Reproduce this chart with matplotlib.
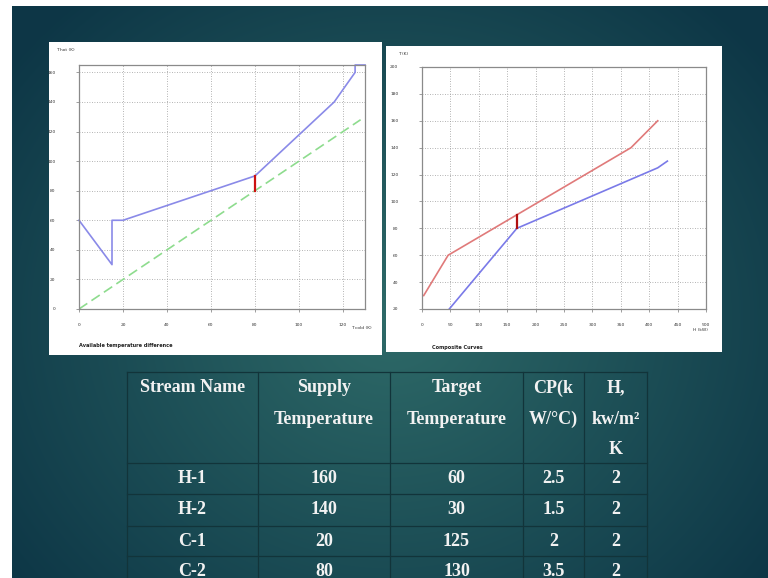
import numpy as np
import matplotlib
matplotlib.use("Agg")
import matplotlib.pyplot as plt
from matplotlib.patches import Rectangle

W, H = 768, 578

# left chart: available temperature difference (T cold vs T hot)
tcold_hot = [0, 15, 15, 20, 80, 116, 125.5, 125.5, 130]
thot_line = [60, 30, 60, 60, 90, 140, 160, 165, 165]
diag_x = [0, 128]
diag_y = [0, 128]
pinch1_x = [80, 80]
pinch1_y = [80, 90]

# right chart: composite curves
hot_h = [3, 46, 368, 415]
hot_t = [30, 60, 140, 160]
cold_h = [48, 167, 415, 432]
cold_t = [20, 80, 125, 130]
pinch2_h = [167, 167]
pinch2_t = [80, 90]

# stream table
headers = ["Stream Name", "Supply\nTemperature", "Target\nTemperature", "CP(k\nW/°C)", "H,\nkw/m²\nK"]
streams = ["H-1", "H-2", "C-1", "C-2"]
supply = ["160", "140", "20", "80"]
target = ["60", "30", "125", "130"]
cp = ["2.5", "1.5", "2", "3.5"]
coef = ["2", "2", "2", "2"]


def box(x0, y0, x1, y1):
    return [x0 / W, 1 - y1 / H, (x1 - x0) / W, (y1 - y0) / H]


fig = plt.figure(figsize=(W / 100, H / 100), dpi=100)

# slide background
bg = fig.add_axes([0, 0, 1, 1])
yy, xx = np.mgrid[0:H, 0:W]
d = np.clip(np.sqrt(((xx - 390) / 480) ** 2 + ((yy - 320) / 430) ** 2), 0, 1)
inner = np.array([0x2e, 0x6a, 0x68]) / 255
outer = np.array([0x0d, 0x36, 0x46]) / 255
grad = inner * (1 - d[..., None]) + outer * d[..., None]
bg.imshow(grad, extent=[0, W, H, 0], aspect="auto", interpolation="bilinear")
bg.set_xlim(0, W)
bg.set_ylim(H, 0)
bg.axis("off")
bg.add_patch(Rectangle((0, 0), W, 6, color="white", lw=0))
bg.add_patch(Rectangle((0, 0), 12, H, color="white", lw=0))

# table grid
col_edges = [127, 258, 390, 523, 584, 647]
row_edges = [372, 463, 494, 526, 556, 587]
lc = "#12343a"
for x in col_edges:
    bg.plot([x, x], [row_edges[0], row_edges[-1]], color=lc, lw=0.9)
for y in row_edges:
    bg.plot([col_edges[0], col_edges[-1]], [y, y], color=lc, lw=0.9)

tfont = dict(family="Liberation Serif", weight="bold", size=13, color="#f2f2f2",
             ha="center", va="center")
centers = [(col_edges[i] + col_edges[i + 1]) / 2 for i in range(5)]
for c, hd in zip(centers, headers):
    for k, line in enumerate(hd.split("\n")):
        bg.text(c, 388 + 31 * k, line, **tfont)
columns = [streams, supply, target, cp, coef]
for c, vals in zip(centers, columns):
    for r, v in enumerate(vals):
        bg.text(c, (row_edges[r + 1] + row_edges[r + 2]) / 2, v, **tfont)

# white panels
for b in [box(49, 42, 382, 355), box(386, 46, 722, 352)]:
    p = fig.add_axes(b)
    p.set_facecolor("white")
    p.set_xticks([])
    p.set_yticks([])
    for s in p.spines.values():
        s.set_visible(False)


def style(ax):
    ax.grid(True, color="#9a9a9a", lw=0.6, linestyle=(0, (1, 2)))
    for s in ax.spines.values():
        s.set_color("#8a8a8a")
        s.set_linewidth(0.9)
    ax.tick_params(labelsize=3.2, length=2, width=0.5, color="#777777",
                   labelcolor="#333333", pad=8)
    ax.set_axisbelow(True)


# left chart
ax1 = fig.add_axes(box(79, 65, 365, 309))
ax1.plot(diag_x, diag_y, color="#8edc8e", lw=1.2, dashes=(6, 3))
ax1.plot(tcold_hot, thot_line, color="#8a8ae8", lw=1.2, clip_on=False)
ax1.plot(pinch1_x, pinch1_y, color="#cc1111", lw=1.6)
ax1.set_xlim(0, 130)
ax1.set_ylim(0, 165)
ax1.set_xticks(range(0, 121, 20))
ax1.set_yticks(range(0, 161, 20))
style(ax1)
ax1.tick_params(axis="y", pad=15)
fig.text(56 / W, 1 - 50 / H, "T hot (K)", fontsize=3.2, color="#333333", va="center")
fig.text(372 / W, 1 - 328 / H, "T cold (K)", fontsize=3.2, color="#333333", va="center", ha="right")
fig.text(79 / W, 1 - 346 / H, "Available temperature difference", fontsize=3.6,
         weight="bold", color="#222222", va="center")

# right chart
ax2 = fig.add_axes(box(422, 67, 706, 309))
ax2.plot(hot_h, hot_t, color="#e07a7a", lw=1.2)
ax2.plot(cold_h, cold_t, color="#7a7ae8", lw=1.2)
ax2.plot(pinch2_h, pinch2_t, color="#b01010", lw=1.6)
ax2.set_xlim(0, 500)
ax2.set_ylim(20, 200)
ax2.set_xticks(range(0, 501, 50))
ax2.set_yticks(range(20, 201, 20))
style(ax2)
ax2.tick_params(axis="y", pad=15)
fig.text(398 / W, 1 - 54 / H, "T (K)", fontsize=3.2, color="#333333", va="center")
fig.text(708 / W, 1 - 330 / H, "H (kW)", fontsize=3.2, color="#333333", va="center", ha="right")
fig.text(432 / W, 1 - 348 / H, "Composite Curves", fontsize=3.6,
         weight="bold", color="#222222", va="center")

fig.savefig("out.png", dpi=100)
